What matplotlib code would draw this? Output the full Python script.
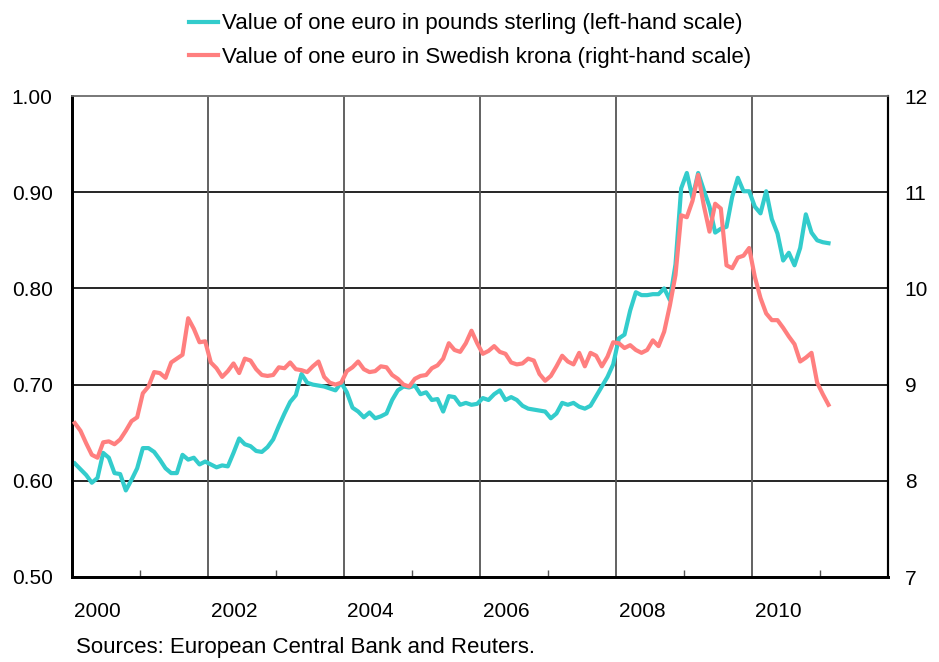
import numpy as np
import matplotlib.pyplot as plt

plt.rcParams["font.family"] = ["Liberation Sans", "DejaVu Sans"]

# monthly values, Jan 2000 - Feb 2011
gbp = [
    0.618, 0.612, 0.606, 0.598, 0.603, 0.629, 0.624, 0.608, 0.607, 0.590, 0.601, 0.613,
    0.634, 0.634, 0.630, 0.622, 0.613, 0.608, 0.608, 0.627, 0.622, 0.624, 0.617, 0.620,
    0.617, 0.614, 0.616, 0.615, 0.629, 0.644, 0.638, 0.636, 0.631, 0.630, 0.635, 0.643,
    0.657, 0.670, 0.682, 0.689, 0.711, 0.702, 0.700, 0.699, 0.698, 0.696, 0.694, 0.702,
    0.692, 0.676, 0.672, 0.666, 0.671, 0.665, 0.667, 0.670, 0.684, 0.694, 0.698, 0.697,
    0.699, 0.690, 0.692, 0.684, 0.685, 0.672, 0.688, 0.687, 0.679, 0.681, 0.679, 0.680,
    0.686, 0.684, 0.690, 0.694, 0.684, 0.687, 0.684, 0.678, 0.675, 0.674, 0.673, 0.672,
    0.665, 0.670, 0.681, 0.679, 0.681, 0.677, 0.675, 0.678, 0.688, 0.698, 0.708, 0.721,
    0.748, 0.752, 0.777, 0.796, 0.793, 0.793, 0.794, 0.794, 0.800, 0.788, 0.825, 0.904,
    0.920, 0.894, 0.920, 0.902, 0.885, 0.858, 0.862, 0.864, 0.895, 0.915, 0.901, 0.901,
    0.885, 0.878, 0.901, 0.872, 0.857, 0.829, 0.837, 0.824, 0.842, 0.877, 0.858, 0.850,
    0.848, 0.847,
]
sek = [
    8.60, 8.52, 8.39, 8.27, 8.24, 8.40, 8.41, 8.38, 8.43, 8.52, 8.62, 8.66,
    8.91, 8.98, 9.13, 9.12, 9.07, 9.23, 9.27, 9.31, 9.69, 9.58, 9.44, 9.45,
    9.23, 9.17, 9.08, 9.14, 9.22, 9.12, 9.27, 9.25, 9.16, 9.10, 9.09, 9.10,
    9.18, 9.17, 9.23, 9.16, 9.15, 9.13, 9.19, 9.24, 9.08, 9.02, 9.00, 9.02,
    9.14, 9.18, 9.24, 9.16, 9.13, 9.14, 9.19, 9.18, 9.10, 9.06, 9.00, 8.98,
    9.06, 9.09, 9.10, 9.17, 9.20, 9.27, 9.43, 9.36, 9.34, 9.43, 9.56, 9.43,
    9.32, 9.35, 9.40, 9.34, 9.32, 9.23, 9.21, 9.22, 9.27, 9.25, 9.11, 9.04,
    9.09, 9.19, 9.30, 9.24, 9.21, 9.33, 9.19, 9.33, 9.30, 9.19, 9.29, 9.44,
    9.43, 9.38, 9.41, 9.36, 9.33, 9.36, 9.46, 9.40, 9.55, 9.82, 10.14, 10.76,
    10.74, 10.91, 11.18, 10.86, 10.59, 10.88, 10.83, 10.24, 10.21, 10.32, 10.34, 10.42,
    10.12, 9.90, 9.74, 9.67, 9.67, 9.59, 9.50, 9.42, 9.24, 9.28, 9.33, 9.02,
    8.90, 8.79,
]
years = [2000, 2002, 2004, 2006, 2008, 2010]
year_labels = ["2000", "2002", "2004", "2006", "2008", "2010"]
left_ticks = [0.50, 0.60, 0.70, 0.80, 0.90, 1.00]
right_ticks = [7, 8, 9, 10, 11, 12]

t = 2000 + (np.arange(len(gbp)) + 0.5) / 12

teal = "#33CCCC"
salmon = "#FF7F7F"

fig = plt.figure(figsize=(9.39, 6.62), dpi=100)
ax = fig.add_axes([72 / 939, 85 / 662, 816 / 939, 481 / 662])
ax2 = ax.twinx()

ax.set_xlim(2000, 2012)
ax.set_ylim(0.5, 1.0)
ax2.set_ylim(7, 12)

for v in left_ticks[1:-1]:
    ax.axhline(v, color="black", lw=1.2, zorder=1)
for yr in years[1:]:
    ax.axvline(yr, color="#555555", lw=1.3, zorder=1)

l1, = ax.plot(t, gbp, color=teal, lw=3.0, zorder=3,
              label="Value of one euro in pounds sterling (left-hand scale)")
l2, = ax2.plot(t, sek, color=salmon, lw=3.0, zorder=3,
               label="Value of one euro in Swedish krona (right-hand scale)")

ax.set_yticks(left_ticks)
ax.set_yticklabels([f"{v:.2f}" for v in left_ticks])
ax2.set_yticks(right_ticks)
ax2.set_yticklabels([str(v) for v in right_ticks])

# year labels sit a little right of the year boundary
ax.set_xticks([y + 0.38 for y in years])
ax.set_xticklabels(year_labels)
ax.set_xticks(range(2001, 2012, 2), minor=True)
ax.tick_params(axis="x", which="major", length=0, pad=18, labelsize=15)
ax.tick_params(axis="x", which="minor", direction="in", length=5, width=1, color="#555555")
ax.tick_params(axis="y", length=0, pad=14, labelsize=15)
ax2.tick_params(axis="y", length=0, pad=12, labelsize=15)

for a in (ax, ax2):
    a.spines["top"].set_color("#777777")
    a.spines["top"].set_linewidth(1.2)
    a.spines["left"].set_linewidth(2)
    a.spines["bottom"].set_linewidth(2)
    a.spines["right"].set_linewidth(1.5)

fig.legend(handles=[l1, l2], loc="upper left", bbox_to_anchor=(176 / 939, 1.0),
           frameon=False, fontsize=16, handlelength=1.3, handletextpad=0.15,
           labelspacing=0.55, borderaxespad=0.2)

fig.text(76 / 939, 1 - 648 / 662, "Sources: European Central Bank and Reuters.",
         fontsize=16, va="center", ha="left")

fig.savefig("out.png", dpi=100)
